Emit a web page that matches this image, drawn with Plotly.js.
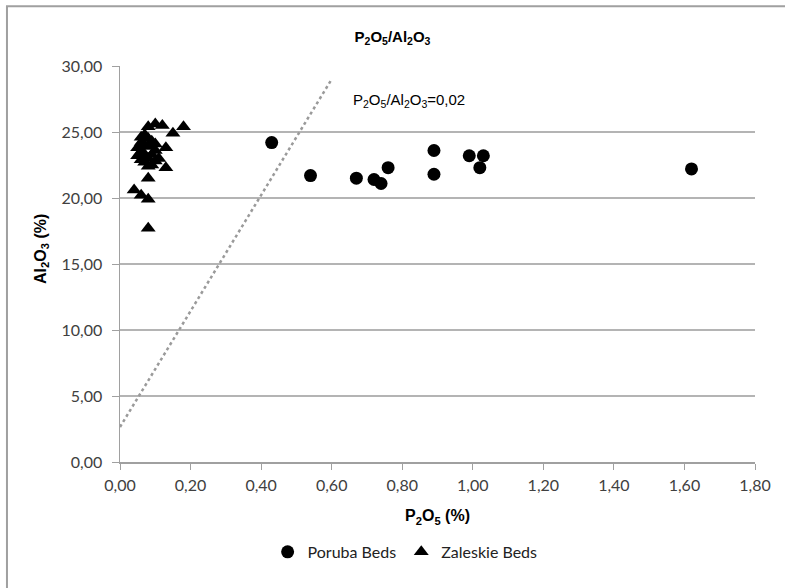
<!DOCTYPE html>
<html>
<head>
<meta charset="utf-8">
<script src="https://cdn.plot.ly/plotly-3.0.1.min.js"></script>
<style>html,body{margin:0;padding:0;background:#fff;}#chart{width:785px;height:588px;}</style>
</head>
<body>
<div id="chart"></div>
<script>
// Poruba Beds (circles)
const porubaP2O5 = [0.43, 0.54, 0.67, 0.72, 0.74, 0.76, 0.89, 0.89, 0.99, 1.03, 1.02, 1.62];
const porubaAl2O3 = [24.2, 21.7, 21.5, 21.4, 21.1, 22.3, 23.6, 21.8, 23.2, 23.2, 22.3, 22.2];

// Zaleskie Beds (triangles)
const zaleskieP2O5 = [0.10, 0.12, 0.18, 0.08, 0.15, 0.13, 0.13, 0.08, 0.04, 0.06, 0.08, 0.08,
  0.06, 0.07, 0.08, 0.09, 0.06, 0.07, 0.05, 0.08, 0.10, 0.06, 0.07, 0.09, 0.05, 0.08, 0.06,
  0.10, 0.07, 0.09, 0.08, 0.11, 0.10];
const zaleskieAl2O3 = [25.6, 25.5, 25.4, 25.4, 24.9, 23.8, 22.3, 21.5, 20.6, 20.2, 19.9, 17.7,
  24.6, 24.8, 24.5, 24.3, 24.2, 24.0, 23.8, 23.9, 23.6, 23.5, 23.3, 23.3, 23.2, 23.0, 22.9,
  22.8, 22.7, 22.5, 22.4, 23.0, 24.1];

// Ratio reference line
const ratioLineX = [0.0, 0.60];
const ratioLineY = [2.65, 29.0];

const xTicks = [0, 0.2, 0.4, 0.6, 0.8, 1.0, 1.2, 1.4, 1.6, 1.8];
const yTicks = [0, 5, 10, 15, 20, 25, 30];

const traces = [
  {x: ratioLineX, y: ratioLineY, mode: 'lines', showlegend: false, hoverinfo: 'skip',
   line: {color: '#9a9a9a', width: 2.5, dash: 'dot'}},
  {x: porubaP2O5, y: porubaAl2O3, mode: 'markers', name: 'Poruba Beds',
   marker: {symbol: 'circle', size: 13, color: '#000'}},
  {x: zaleskieP2O5, y: zaleskieAl2O3, mode: 'markers', name: 'Zaleskie Beds',
   marker: {symbol: 'triangle-up', size: 13, color: '#000'}}
];

const titleFont = {family: '"Liberation Sans", Arial, sans-serif', size: 15, color: '#000'};
const axTitleFont = {family: '"Liberation Sans", Arial, sans-serif', size: 16, color: '#000'};
const tickFont = {family: 'Lato, "Open Sans", sans-serif', size: 16, color: '#404040'};
const layout = {
  width: 785, height: 588,
  margin: {l: 120, r: 30, t: 66, b: 126},
  paper_bgcolor: '#fff', plot_bgcolor: '#fff',
  separators: ',.',
  showlegend: true,
  title: {text: '<b>P<sub>2</sub>O<sub>5</sub>/Al<sub>2</sub>O<sub>3</sub></b>', font: titleFont,
    x: 0.5, xref: 'container', xanchor: 'center', y: 1 - 37/588, yanchor: 'middle'},
  xaxis: {range: [0, 1.8], tickvals: xTicks, tickformat: '.2f', showgrid: false, zeroline: false,
    showline: true, linecolor: '#a0a0a0', linewidth: 1.5, ticks: 'outside', ticklen: 6,
    tickcolor: '#a0a0a0', tickfont: tickFont, ticklabelstandoff: 2,
    title: {text: '<b>P<sub>2</sub>O<sub>5</sub> (%)</b>', standoff: 17, font: axTitleFont}},
  yaxis: {range: [0, 30], tickvals: yTicks, tickformat: '.2f', showgrid: true, gridcolor: '#b4b4b4',
    gridwidth: 1.5, zeroline: false, showline: true, linecolor: '#a0a0a0', linewidth: 1.5,
    ticks: 'outside', ticklen: 7, tickcolor: '#a0a0a0', tickfont: tickFont, ticklabelstandoff: 6},
  legend: {orientation: 'h', x: 0.449, xanchor: 'center', y: -0.227, yanchor: 'middle',
    font: {family: 'Lato, "Open Sans", sans-serif', size: 16, color: '#222'},
    itemwidth: 30, bgcolor: 'rgba(0,0,0,0)'},
  annotations: [
    {x: 0.655, y: 27.4, xref: 'x', yref: 'y', xanchor: 'left', yanchor: 'middle', showarrow: false,
     text: 'P<sub>2</sub>O<sub>5</sub>/Al<sub>2</sub>O<sub>3</sub>=0,02',
     font: {family: '"Liberation Sans", Arial, sans-serif', size: 15, color: '#000'}},
    {x: -0.1228, y: 0.538, xref: 'paper', yref: 'paper', xanchor: 'center', yanchor: 'middle',
     showarrow: false, textangle: -90, text: '<b>Al<sub>2</sub>O<sub>3</sub> (%)</b>', font: axTitleFont}
  ],
  shapes: [
    {type: 'rect', xref: 'paper', yref: 'paper', x0: -0.178, x1: 1.3, y0: -0.6, y1: 1.151,
     line: {color: '#a0a0a0', width: 2}, layer: 'below'}
  ]
};

Plotly.newPlot('chart', traces, layout, {displayModeBar: false, staticPlot: true});
</script>
</body>
</html>
